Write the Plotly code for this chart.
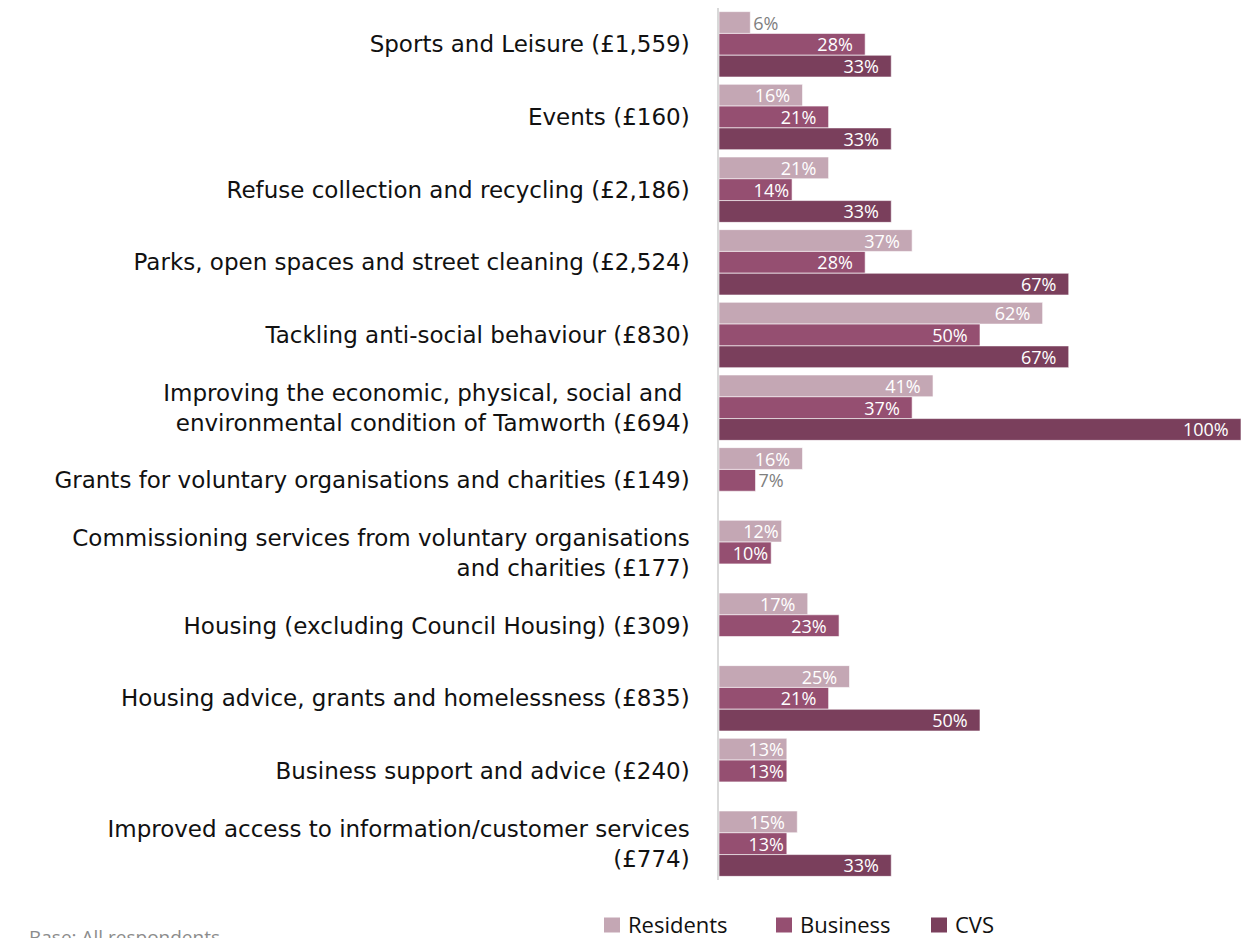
import plotly.graph_objects as go

# Service areas (with spend per head) and share of respondents choosing each
categories = [
    "Sports and Leisure (£1,559)",
    "Events (£160)",
    "Refuse collection and recycling (£2,186)",
    "Parks, open spaces and street cleaning (£2,524)",
    "Tackling anti-social behaviour (£830)",
    "Improving the economic, physical, social and <br>environmental condition of Tamworth (£694)",
    "Grants for voluntary organisations and charities (£149)",
    "Commissioning services from voluntary organisations<br>and charities (£177)",
    "Housing (excluding Council Housing) (£309)",
    "Housing advice, grants and homelessness (£835)",
    "Business support and advice (£240)",
    "Improved access to information/customer services<br>(£774)",
]
residents = [6, 16, 21, 37, 62, 41, 16, 12, 17, 25, 13, 15]
business = [28, 21, 14, 28, 50, 37, 7, 10, 23, 21, 13, 13]
cvs = [33, 33, 33, 67, 67, 100, None, None, None, 50, None, 33]

series_names = ["Residents", "Business", "CVS"]
series_values = [residents, business, cvs]
series_colors = ["#c4a7b4", "#954f71", "#7a3f5c"]

FONT = "Open Sans"
LABEL_FONT = "DejaVu Sans"
W, H = 1241, 938
ML, MR, MT, MB = 719, 0, 8, 58
PW, PH = W - ML - MR, H - MT - MB


def px_x(px):
    return (px - ML) / PW


def px_y(py):
    return (H - MB - py) / PH


fig = go.Figure()
for name, vals, color in zip(series_names, series_values, series_colors):
    text, pos = [], []
    for v in vals:
        if v is None:
            text.append("")
            pos.append("none")
        elif v <= 7:
            # short bars carry their label outside, in grey
            text.append(f"{v}%")
            pos.append("outside")
        elif v < 15:
            text.append(f"{v}%")
            pos.append("inside")
        else:
            text.append(f"{v}%\u00a0\u00a0")
            pos.append("inside")
    fig.add_trace(go.Bar(
        name=name,
        y=categories,
        x=vals,
        orientation="h",
        marker=dict(color=color, line=dict(color="rgba(255,255,255,0.6)", width=1)),
        text=text,
        textposition=pos,
        insidetextanchor="end",
        insidetextfont=dict(family=FONT, size=18, color="white"),
        outsidetextfont=dict(family=FONT, size=18, color="#7f7f7f"),
        constraintext="none",
        cliponaxis=False,
        hoverinfo="skip",
        showlegend=False,
    ))

# Legend drawn as coloured squares with names beneath the plot
shapes, annotations = [], []
legend_x = [604, 776, 931]
sq_w, sq_h = 16, 15
legend_cy = 925
for name, color, lx in zip(series_names, series_colors, legend_x):
    shapes.append(dict(
        type="rect", xref="paper", yref="paper",
        x0=px_x(lx), x1=px_x(lx + sq_w),
        y0=px_y(legend_cy + sq_h / 2), y1=px_y(legend_cy - sq_h / 2),
        fillcolor=color, line=dict(width=0),
    ))
    annotations.append(dict(
        text=name, xref="paper", yref="paper",
        x=px_x(lx + sq_w + 6), y=px_y(legend_cy - 1),
        xanchor="left", yanchor="middle", showarrow=False,
        font=dict(family=FONT, size=22, color="#111111"),
    ))

annotations.append(dict(
    text="Base: All respondents",
    xref="paper", yref="paper",
    x=px_x(27), y=px_y(922),
    xanchor="left", yanchor="top",
    showarrow=False,
    font=dict(family="Open Sans", size=19, color="#8c8c8c"),
))

fig.update_layout(
    width=W,
    height=H,
    margin=dict(l=ML, r=MR, t=MT, b=MB),
    barmode="group",
    bargap=0.1,
    bargroupgap=0,
    plot_bgcolor="white",
    paper_bgcolor="white",
    font=dict(family=FONT, color="#111111"),
    showlegend=False,
    shapes=shapes,
    annotations=annotations,
)

fig.update_xaxes(
    range=[0, 100],
    showgrid=False, zeroline=False,
    showticklabels=False, ticks="",
    showline=False,
)
fig.update_yaxes(
    autorange="reversed",
    showgrid=False, zeroline=False,
    ticks="",
    showline=True, linecolor="#d9d9d9", linewidth=1.5,
    ticklabelstandoff=23,
    tickfont=dict(family=LABEL_FONT, size=23, color="#111111"),
)

fig.write_html("out.html")
